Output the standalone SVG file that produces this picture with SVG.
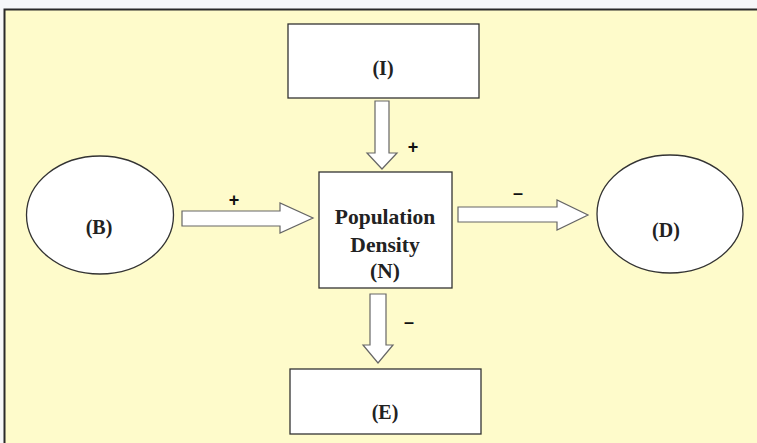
<svg xmlns="http://www.w3.org/2000/svg" width="757" height="443" viewBox="0 0 757 443">
<style>
.node{fill:#ffffff;stroke:#333333;stroke-width:1.3}
.arr{fill:#ffffff;stroke:#666666;stroke-width:1.2;stroke-linejoin:miter}
.lbl{font-family:"Liberation Serif",serif;font-weight:bold;font-size:20px;fill:#222222;text-anchor:middle}
.big{font-size:21.5px}
.sign{font-family:"Liberation Sans",sans-serif;font-weight:bold;font-size:18px;fill:#111111;text-anchor:middle}
</style>
<rect x="0" y="0" width="757" height="443" fill="#f6f7f9"/>
<rect x="4.5" y="9.5" width="760" height="440" fill="#fefbcb" stroke="#2a2a2a" stroke-width="2"/>
<g id="connectors">
<polygon class="arr" points="375,101 389,101 389,153 397,153 382,169 367,153 375,153"/>
<text class="sign" x="413" y="153">+</text>
<polygon class="arr" points="182,211 280,211 280,203 313,218 280,233 280,226 182,226"/>
<text class="sign" x="234" y="206">+</text>
<polygon class="arr" points="458,207 557,207 557,200 588,215 557,230 557,222 458,222"/>
<text class="sign" x="518" y="199">–</text>
<polygon class="arr" points="370,294 386,294 386,345 393,345 378,363 363,345 370,345"/>
<text class="sign" x="409" y="328">–</text>
</g>
<g id="nodeI">
<rect class="node" x="288" y="24" width="191" height="74"/>
<text class="lbl" x="383" y="75">(I)</text>
</g>
<g id="nodeN">
<rect class="node" x="319" y="172" width="133" height="116"/>
<text class="lbl big" x="385" y="224">Population</text>
<text class="lbl big" x="385" y="252">Density</text>
<text class="lbl big" x="385" y="278">(N)</text>
</g>
<g id="nodeB">
<ellipse class="node" cx="100" cy="215" rx="73.5" ry="59"/>
<text class="lbl" x="99" y="234">(B)</text>
</g>
<g id="nodeD">
<ellipse class="node" cx="670" cy="214" rx="73" ry="59"/>
<text class="lbl" x="666" y="237">(D)</text>
</g>
<g id="nodeE">
<rect class="node" x="290" y="369" width="191" height="65"/>
<text class="lbl" x="385" y="419">(E)</text>
</g>
</svg>
